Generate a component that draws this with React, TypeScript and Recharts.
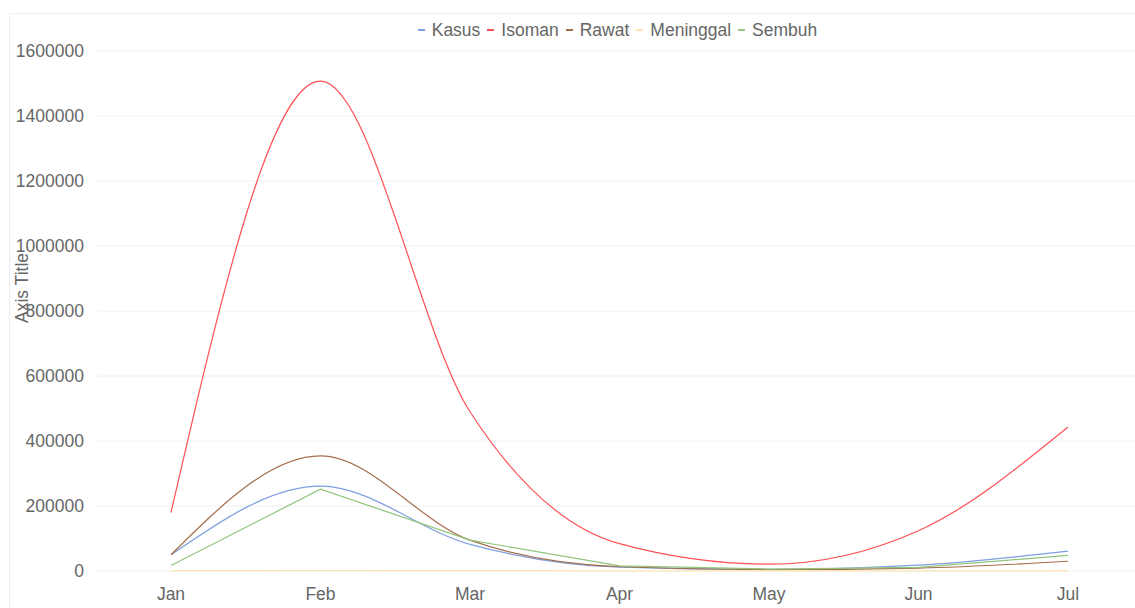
import React from 'react';
import { LineChart, Line, XAxis, YAxis, CartesianGrid, Legend } from 'recharts';

const months = ['Jan', 'Feb', 'Mar', 'Apr', 'May', 'Jun', 'Jul'];
const kasus = [50000, 261000, 82000, 12000, 5000, 18000, 61000];
const isoman = [180000, 1507000, 490000, 84000, 21000, 124000, 443000];
const rawat = [50000, 354000, 95000, 13000, 4000, 9000, 30000];
const meninggal = [1000, 1500, 1200, 600, 300, 400, 900];
const sembuh = [17000, 252000, 95000, 16000, 6000, 11000, 48000];
const yTicks = [0, 200000, 400000, 600000, 800000, 1000000, 1200000, 1400000, 1600000];

const series = [
  { key: 'Kasus', color: '#7e9fdf', type: 'monotone' as const },
  { key: 'Isoman', color: '#ff4f55', type: 'monotone' as const },
  { key: 'Rawat', color: '#a56d4b', type: 'monotone' as const },
  { key: 'Meninggal', color: '#fde5b0', type: 'monotone' as const },
  { key: 'Sembuh', color: '#92c47c', type: 'linear' as const },
];

const data = months.map((m, i) => ({
  month: m,
  Kasus: kasus[i],
  Isoman: isoman[i],
  Rawat: rawat[i],
  Meninggal: meninggal[i],
  Sembuh: sembuh[i],
}));

const FONT = '"Liberation Sans", Arial, sans-serif';

const LegendRow = () => (
  <div style={{ display: 'flex', justifyContent: 'center', fontFamily: FONT, fontSize: 17.5, color: '#666', lineHeight: '20px' }}>
    {series.map(s => (
      <span key={s.key} style={{ display: 'inline-flex', alignItems: 'center', marginRight: 7 }}>
        <span style={{ display: 'inline-block', width: 7, height: 1.5, background: s.color, marginRight: 7 }} />
        {s.key}
      </span>
    ))}
  </div>
);

const AxisTitle = ({ viewBox }: any) => {
  const x = 12;
  const y = viewBox.y + viewBox.height / 2 - 23;
  return (
    <text x={x} y={y} transform={`rotate(-90, ${x}, ${y})`} textAnchor="middle" dominantBaseline="central" fill="#666" fontSize={17.5} fontFamily={FONT}>
      Axis Title
    </text>
  );
};

export default function App() {
  return (
    <div style={{ position: 'fixed', left: 0, top: 0, width: 1135, height: 608, overflow: 'hidden', background: '#fff' }}>
      <div style={{ position: 'absolute', left: 9, top: 13, width: 1160, height: 640, border: '1px solid #ececec' }}>
        <LineChart width={1140} height={600} data={data} margin={{ top: 37, right: 0, bottom: 13, left: 0 }}>
          <CartesianGrid vertical={false} stroke="#f0f0f0" />
          <XAxis
            dataKey="month"
            axisLine={false}
            tickLine={false}
            tickMargin={11}
            padding={{ left: 74, right: 82 }}
            tick={{ fill: '#666', fontSize: 17.5, fontFamily: FONT }}
          />
          <YAxis
            width={87}
            domain={[0, 1600000]}
            ticks={yTicks}
            axisLine={false}
            tickLine={false}
            tickMargin={7}
            tick={{ fill: '#666', fontSize: 17.5, fontFamily: FONT }}
            label={<AxisTitle />}
          />
          <Legend layout="horizontal" verticalAlign="middle" align="center" content={<LegendRow />} wrapperStyle={{ top: 6, left: 0, width: 1140, paddingLeft: 82, boxSizing: 'border-box' }} />
          {series.map(s => (
            <Line
              key={s.key}
              type={s.type}
              dataKey={s.key}
              stroke={s.color}
              strokeWidth={1.2}
              dot={false}
              activeDot={false}
              isAnimationActive={false}
            />
          ))}
        </LineChart>
      </div>
    </div>
  );
}
